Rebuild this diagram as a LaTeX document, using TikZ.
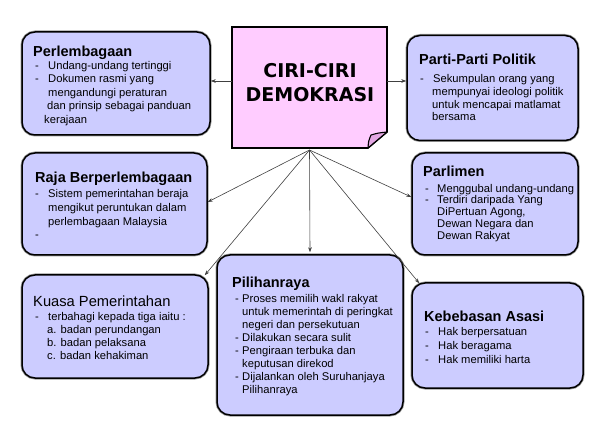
\documentclass[tikz,border=0pt]{standalone}
\usepackage{fontspec}
\setmainfont{Liberation Sans}
\newfontfamily\titlefont{DejaVu Sans}
\usetikzlibrary{arrows.meta,calc}
\definecolor{lav}{HTML}{CCCCFF}
\definecolor{pinkbox}{HTML}{FFCCFF}
\definecolor{pinkfold}{HTML}{E3A6E3}
\newcommand{\di}[1]{\makebox[#1pt][l]{-}}
\newcommand{\ci}[1]{\hspace*{#1pt}}
\begin{document}
\begin{tikzpicture}[x=1pt,y=-1pt,
  box/.style={draw=black, line width=1.5pt, fill=lav, rounded corners=13pt, inner sep=0pt,
    preaction={draw=black!40, line width=3pt}},
  head/.style={anchor=base west, inner sep=0pt, font=\fontsize{14.5}{17}\selectfont\bfseries},
  headreg/.style={anchor=base west, inner sep=0pt, font=\fontsize{14.7}{17}\selectfont},
  body/.style={anchor=base west, inner sep=0pt, align=left, font=\fontsize{11.2}{#1}\selectfont},
  conn/.style={draw=black!75, line width=0.6pt, -{Stealth[length=5pt,width=3.6pt]}}]
\useasboundingbox[fill=white] (0,0) rectangle (599,435);

% boxes
\node[box, minimum width=188pt, minimum height=103pt] (perl) at (116,83.5) {};
\node[box, minimum width=185pt, minimum height=102pt] (raja) at (114.5,204) {};
\node[box, minimum width=186pt, minimum height=103pt] (kuasa) at (115,326.5) {};
\node[box, minimum width=171pt, minimum height=105pt] (parti) at (492.5,88) {};
\node[box, minimum width=166pt, minimum height=102pt] (parl) at (495,204) {};
\node[box, minimum width=186pt, minimum height=160pt] (pilih) at (310,335) {};
\node[box, minimum width=171pt, minimum height=105pt] (kebeb) at (497.5,335.5) {};

% centre note
\node[minimum width=155pt, minimum height=121pt, inner sep=0pt] (center) at (309.5,87.5) {};
\draw[line width=1.6pt, fill=pinkbox, line join=miter]
  (232,27) -- (387,27) -- (387,132) -- (368,148) -- (232,148) -- cycle;
\draw[line width=1.1pt, fill=pinkfold, line join=round]
  (368,148) .. controls (368.5,141) .. (371,135) .. controls (378,133) .. (387,132) -- cycle;
\node[anchor=base, inner sep=0pt, align=center, font=\titlefont\fontsize{19}{24}\selectfont\bfseries]
  (title) at (310,102) {CIRI-CIRI\\DEMOKRASI};

% texts (body nodes: base = last line)
\node[head] (perlh) at (33,57) {Perlembagaan};
\node[body=13.5] (perlb) at (35,123.5) {\di{13}Undang-undang tertinggi\\\di{13}Dokumen rasmi yang\\\ci{13}mengandungi peraturan\\\ci{12}dan prinsip sebagai panduan\\\ci{9}kerajaan};

\node[head] (rajah) at (35,183) {Raja Berperlembagaan};
\node[body=13.8] (rajab) at (35,238.9) {\di{13}Sistem pemerintahan beraja\\\ci{13}mengikut peruntukan dalam\\\ci{13}perlembagaan Malaysia\\\di{13}};

\node[headreg] (kuasah) at (33,306.5) {Kuasa Pemerintahan};
\node[body=13.1] (kuasab) at (35,359.8) {\di{13}terbahagi kepada tiga iaitu :\\\ci{12}a. badan perundangan\\\ci{12}b. badan pelaksana\\\ci{12}c. badan kehakiman};

\node[head] (partih) at (419,65) {Parti-Parti Politik};
\node[body=12.8] (partib) at (420,120.9) {\di{13}Sekumpulan orang yang\\\ci{12}mempunyai ideologi politik\\\ci{12}untuk mencapai matlamat\\\ci{12}bersama};

\node[head] (parlh) at (423,176.5) {Parlimen};
\node[body=11.7] (parlb) at (425,239.1) {\di{12}Menggubal undang-undang\\\di{12}Terdiri daripada Yang\\\ci{12}DiPertuan Agong,\\\ci{12}Dewan Negara dan\\\ci{12}Dewan Rakyat};

\node[head] (pilihh) at (232,287.5) {Pilihanraya};
\node[body=13] (pilihb) at (235,393.3) {\di{7}Proses memilih wakl rakyat\\\ci{7}untuk memerintah di peringkat\\\ci{7}negeri dan persekutuan\\\di{7}Dilakukan secara sulit\\\di{7}Pengiraan terbuka dan\\\ci{7}keputusan direkod\\\di{7}Dijalankan oleh Suruhanjaya\\\ci{7}Pilihanraya};

\node[head] (kebebh) at (424,321.5) {Kebebasan Asasi};
\node[body=13.8] (kebebb) at (425,363.3) {\di{13}Hak berpersatuan\\\di{13}Hak beragama\\\di{13}Hak memiliki harta};

% connectors
\coordinate (cl) at (232,81);
\coordinate (cr) at (387,81);
\coordinate (fan) at (309.5,150);
\draw[conn] (cl) -- (cl -| perl.east);
\draw[conn] (cr) -- (cr -| parti.west);
\draw[conn] (fan) -- ($(raja.east)+(0,-2)$);
\draw[conn] (fan) -- ($(kuasa.north east)+(-4,1)$);
\draw[conn] (fan) -- ($(pilih.north)+(0,-2)$);
\draw[conn] (fan) -- ($(parl.west)+(0,-7)$);
\draw[conn] (fan) -- ($(kebeb.north west)+(8,1)$);
\end{tikzpicture}
\end{document}
